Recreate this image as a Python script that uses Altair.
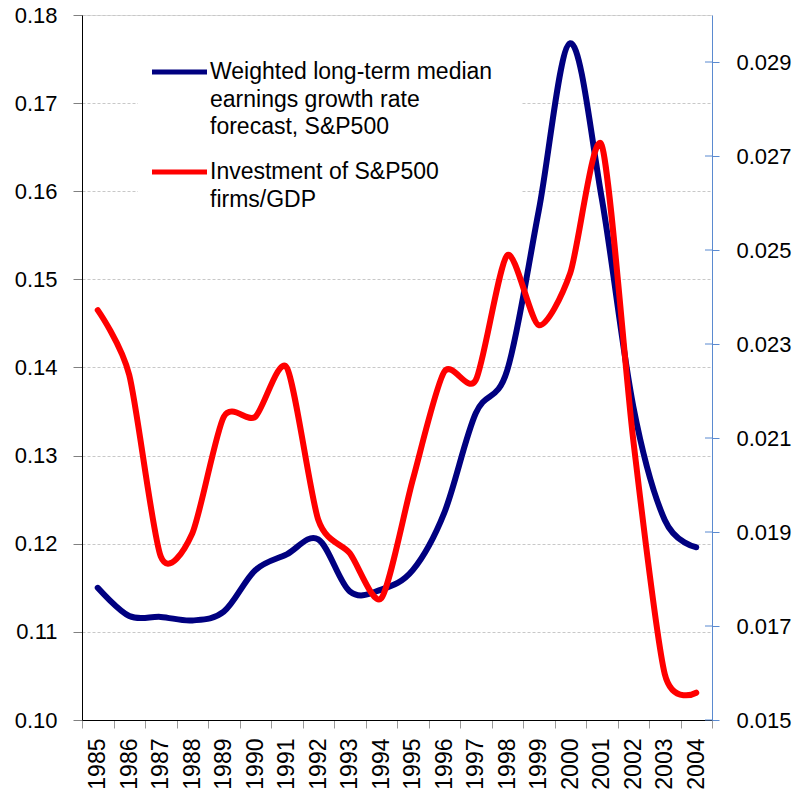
import altair as alt
import pandas as pd

years = [str(y) for y in range(1985, 2005)]
growth_forecast = [0.1150, 0.1118, 0.1117, 0.1113, 0.1123, 0.1170, 0.1188, 0.1205,
                   0.1146, 0.1148, 0.1170, 0.1235, 0.1348, 0.1397, 0.1578, 0.1768,
                   0.1592, 0.1356, 0.1227, 0.1196]
investment_gdp = [0.02372, 0.02234, 0.01848, 0.01897, 0.02145, 0.02145, 0.02250, 0.01926,
                  0.01855, 0.01759, 0.02011, 0.02241, 0.02223, 0.02489, 0.02340, 0.02451,
                  0.02723, 0.02096, 0.01598, 0.01558]
left_ticks = [0.10, 0.11, 0.12, 0.13, 0.14, 0.15, 0.16, 0.17, 0.18]
right_ticks = [0.015, 0.017, 0.019, 0.021, 0.023, 0.025, 0.027, 0.029]
legend_blue = "Weighted long-term median\nearnings growth rate\nforecast, S&P500"
legend_red = "Investment of S&P500\nfirms/GDP"

FONT = "Liberation Sans"
RIGHT_BLUE = "#5A8AD0"

df = pd.DataFrame({"year": years, "growth": growth_forecast, "invest": investment_gdp})
ticks_df = pd.DataFrame({"t": right_ticks})

xenc = alt.X("year:O", sort=years, title=None,
             scale=alt.Scale(type="band", paddingInner=0, paddingOuter=0),
             axis=alt.Axis(labelAngle=270, labelAlign="right", labelBaseline="middle",
                           labelFontSize=23, labelFont=FONT, labelColor="black",
                           labelPadding=10, tickBand="extent", tickSize=8,
                           tickColor="#999999", domainColor="black", grid=False))

blue = alt.Chart(df).mark_line(color="#000080", strokeWidth=6, interpolate="cardinal",
                               strokeCap="round", strokeJoin="round").encode(
    x=xenc,
    y=alt.Y("growth:Q", title=None,
            scale=alt.Scale(domain=[0.10, 0.18], nice=False, zero=False),
            axis=alt.Axis(orient="left", values=left_ticks, format=".2f",
                          labelFontSize=22, labelFont=FONT, labelColor="black",
                          labelPadding=16, tickSize=9, tickColor="#808080",
                          domainColor="black", grid=True, gridColor="#c8c8c8",
                          gridDash=[3, 2], gridWidth=1))
)

red = alt.Chart(df).mark_line(color="#FF0000", strokeWidth=6, interpolate="cardinal",
                              tension=0.25, strokeCap="round", strokeJoin="round").encode(
    x=alt.X("year:O", sort=years),
    y=alt.Y("invest:Q", title=None,
            scale=alt.Scale(domain=[0.015, 0.030], nice=False, zero=False),
            axis=alt.Axis(orient="right", values=right_ticks, format=".3f",
                          labelFontSize=22, labelFont=FONT, labelColor="black",
                          labelPadding=17, tickSize=7, tickColor=RIGHT_BLUE,
                          domainColor=RIGHT_BLUE, grid=False))
)

inner_ticks = alt.Chart(ticks_df).mark_rule(color=RIGHT_BLUE, strokeWidth=1).encode(
    y=alt.Y("t:Q", scale=alt.Scale(domain=[0.015, 0.030], nice=False, zero=False), axis=None),
    x=alt.value(623), x2=alt.value(630))

one = pd.DataFrame({"k": [0]})

legend_bg = alt.Chart(one).mark_rect(color="white").encode(
    x=alt.value(56), x2=alt.value(440), y=alt.value(30), y2=alt.value(222))

leg_line_blue = alt.Chart(one).mark_rule(color="#000080", strokeWidth=5).encode(
    x=alt.value(70), x2=alt.value(125), y=alt.value(57))
leg_line_red = alt.Chart(one).mark_rule(color="#FF0000", strokeWidth=5).encode(
    x=alt.value(70), x2=alt.value(125), y=alt.value(157))

leg_text_blue = alt.Chart(one).mark_text(
    align="left", baseline="alphabetic", fontSize=23, font=FONT, color="black",
    lineBreak="\n", lineHeight=27.5, text=legend_blue).encode(
    x=alt.value(128), y=alt.value(64))
leg_text_red = alt.Chart(one).mark_text(
    align="left", baseline="alphabetic", fontSize=23, font=FONT, color="black",
    lineBreak="\n", lineHeight=27.5, text=legend_red).encode(
    x=alt.value(128), y=alt.value(164))

chart = alt.layer(
    legend_bg, blue, red, inner_ticks, leg_line_blue, leg_line_red, leg_text_blue, leg_text_red
).resolve_scale(y="independent").properties(
    width=630, height=705,
    autosize=alt.AutoSizeParams(type="none"),
    padding={"left": 74, "top": 7, "right": 81, "bottom": 72},
).configure_view(strokeWidth=0).configure(background="white")

chart.save("out.html", embed_options={"renderer": "svg", "actions": False})
